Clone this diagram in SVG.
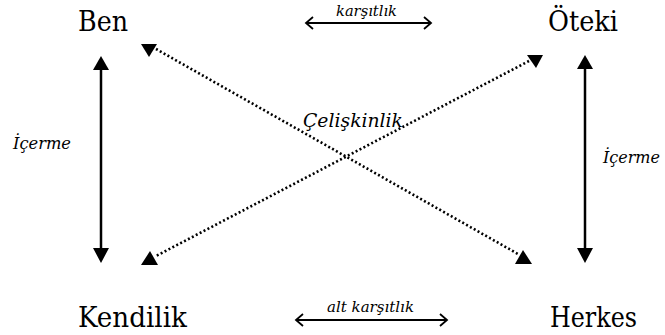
<svg xmlns="http://www.w3.org/2000/svg" width="665" height="335" viewBox="0 0 665 335">
  <style>
    text { font-family: "DejaVu Serif", serif; fill: #000; }
    .term { font-size: 28px; }
    .rel { font-style: italic; }
    .solid { stroke: #000; stroke-width: 2.5; fill: none; }
    .dotted { stroke: #000; stroke-width: 2.6; stroke-dasharray: 2 2.4; fill: none; }
    .thin { stroke: #000; stroke-width: 1.8; fill: none; }
    .head { fill: #000; stroke: none; }
  </style>

  <!-- square terms -->
  <g id="ben"><text class="term" x="78" y="31" textLength="50" lengthAdjust="spacingAndGlyphs">Ben</text></g>
  <g id="oteki"><text class="term" x="548" y="31" textLength="70" lengthAdjust="spacingAndGlyphs">Öteki</text></g>
  <g id="kendilik"><text class="term" x="78" y="327" textLength="109" lengthAdjust="spacingAndGlyphs">Kendilik</text></g>
  <g id="herkes"><text class="term" x="550" y="327" textLength="87" lengthAdjust="spacingAndGlyphs">Herkes</text></g>

  <g id="connectors">
    <!-- contrariety (top) -->
    <line class="thin" x1="306" y1="23" x2="431" y2="23"/>
    <polyline class="thin" points="313,17 306,23 313,29"/>
    <polyline class="thin" points="424,17 431,23 424,29"/>
    <text class="rel" x="336" y="16" font-size="15" textLength="61" lengthAdjust="spacingAndGlyphs">karşıtlık</text>

    <!-- subcontrariety (bottom) -->
    <line class="thin" x1="296" y1="320" x2="447" y2="320"/>
    <polyline class="thin" points="303,314 296,320 303,326"/>
    <polyline class="thin" points="440,314 447,320 440,326"/>
    <text class="rel" x="327" y="312" font-size="15" textLength="87" lengthAdjust="spacingAndGlyphs">alt  karşıtlık</text>

    <!-- implication (left) -->
    <line class="solid" x1="101" y1="68" x2="101" y2="250"/>
    <polygon class="head" points="101,56 93,70 109,70"/>
    <polygon class="head" points="93,248 109,248 101,263"/>
    <text class="rel" x="13" y="149" font-size="16.5" textLength="58" lengthAdjust="spacingAndGlyphs">İçerme</text>

    <!-- implication (right) -->
    <line class="solid" x1="585" y1="67" x2="585" y2="250"/>
    <polygon class="head" points="585,55 577,69 593,69"/>
    <polygon class="head" points="577,248 593,248 585,263"/>
    <text class="rel" x="603" y="163" font-size="16.5" textLength="57" lengthAdjust="spacingAndGlyphs">İçerme</text>

    <!-- contradiction diagonals -->
    <line class="dotted" x1="156" y1="49" x2="518" y2="254"/>
    <line class="dotted" x1="529" y1="61" x2="156" y2="256"/>
    <polygon class="head" points="141,44 157,44 149,57"/>
    <polygon class="head" points="527,55 543,55 536,68"/>
    <polygon class="head" points="150,251 141,265 158,265"/>
    <polygon class="head" points="523,250 515,264 532,264"/>
    <text class="rel" x="303" y="127" font-size="19" textLength="100" lengthAdjust="spacingAndGlyphs">Çelişkinlik</text>
  </g>
</svg>
